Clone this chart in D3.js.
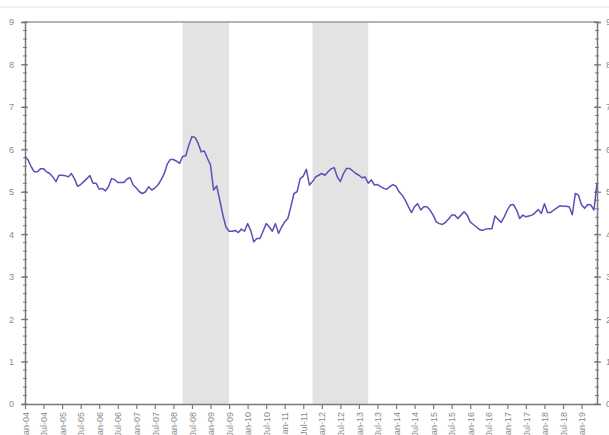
<!DOCTYPE html>
<html>
<head>
<meta charset="utf-8">
<script src="https://cdn.jsdelivr.net/npm/d3@7"></script>
<style>
  html, body { margin: 0; padding: 0; background: #fff; }
  svg { display: block; }
  text { font-family: "Liberation Sans", Arial, sans-serif; }
</style>
</head>
<body>
<svg id="chart" width="609" height="435"></svg>
<script>
// ---- data ----
const monthNames = ["Jan","Feb","Mar","Apr","May","Jun","Jul","Aug","Sep","Oct","Nov","Dec"];
// monthly categories Jan-04 .. Jun-19
const categories = [];
for (let yr = 2004; yr <= 2019; yr++) {
  for (let m = 0; m < 12; m++) {
    if (yr === 2019 && m > 5) break;
    categories.push(monthNames[m] + "-" + String(yr).slice(2));
  }
}
const values = [
  5.83,5.75,5.59,5.47,5.47,5.54,5.54,5.47,5.43,5.35,5.24,5.39,
  5.39,5.38,5.35,5.43,5.31,5.13,5.17,5.24,5.31,5.38,5.20,5.20,
  5.06,5.08,5.02,5.12,5.31,5.29,5.22,5.22,5.22,5.30,5.33,5.16,
  5.09,5.00,4.96,5.00,5.12,5.04,5.09,5.16,5.28,5.42,5.65,5.76,
  5.76,5.72,5.67,5.83,5.85,6.10,6.30,6.28,6.14,5.94,5.96,5.79,
  5.63,5.04,5.14,4.80,4.45,4.17,4.07,4.07,4.09,4.04,4.12,4.07,
  4.25,4.09,3.82,3.90,3.90,4.07,4.25,4.17,4.07,4.25,4.02,4.17,
  4.29,4.37,4.65,4.96,5.00,5.31,5.37,5.53,5.16,5.24,5.35,5.39,
  5.43,5.39,5.47,5.54,5.57,5.35,5.24,5.43,5.55,5.55,5.49,5.43,
  5.39,5.33,5.35,5.20,5.28,5.16,5.17,5.12,5.08,5.06,5.12,5.17,
  5.13,5.00,4.92,4.80,4.65,4.51,4.65,4.72,4.57,4.65,4.65,4.57,
  4.45,4.29,4.25,4.23,4.28,4.36,4.45,4.45,4.37,4.45,4.53,4.45,
  4.29,4.23,4.17,4.11,4.09,4.12,4.13,4.13,4.43,4.35,4.28,4.41,
  4.57,4.69,4.70,4.57,4.37,4.45,4.41,4.43,4.45,4.51,4.58,4.49,
  4.72,4.51,4.51,4.57,4.62,4.67,4.66,4.66,4.65,4.46,4.96,4.92,
  4.69,4.61,4.70,4.69,4.57,5.20
];
const shadedPeriods = [["Apr-08","Jul-09"],["Oct-11","Apr-13"]];
const yTicks = [0,1,2,3,4,5,6,7,8,9];
const xTickLabels = [];
for (let yr = 4; yr <= 19; yr++) {
  const yy = String(yr).padStart(2,"0");
  xTickLabels.push("Jan-" + yy);
  if (yr < 19) xTickLabels.push("Jul-" + yy);
}

// ---- layout ----
const svg = d3.select("#chart");
const mLeft = 25, mRight = 597, mTop = 22, mBottom = 404;

const x = d3.scalePoint().domain(categories).range([mLeft, mRight]);
const y = d3.scaleLinear().domain([0, 9]).range([mBottom, mTop]);

// faint outer frame line
svg.append("line").attr("x1", 0).attr("x2", 609).attr("y1", 7).attr("y2", 7)
  .attr("stroke", "#ececec").attr("stroke-width", 1.5);

// shaded periods
svg.append("g").selectAll("rect").data(shadedPeriods).join("rect")
  .attr("x", d => x(d[0]))
  .attr("width", d => x(d[1]) - x(d[0]))
  .attr("y", mTop)
  .attr("height", mBottom - mTop)
  .attr("fill", "#e3e3e3");

// top border
svg.append("line").attr("x1", mLeft).attr("x2", mRight).attr("y1", mTop).attr("y2", mTop)
  .attr("stroke", "#9a9a9a").attr("stroke-width", 1.5);

const axisColor = "#7a7a7a";
const labelColor = "#8a8a8a";

// minor y ticks
const minor = d3.range(0, 9.001, 0.2);
[mLeft, mRight].forEach(px => {
  svg.append("g").selectAll("line").data(minor).join("line")
    .attr("x1", px - 2).attr("x2", px + 2)
    .attr("y1", d => y(d)).attr("y2", d => y(d))
    .attr("stroke", axisColor).attr("stroke-width", 1);
});

// left y axis
const yAxisL = svg.append("g").attr("transform", `translate(${mLeft},0)`)
  .call(d3.axisLeft(y).tickValues(yTicks).tickSize(4).tickPadding(7).tickFormat(d3.format("d")));
yAxisL.select(".domain").attr("stroke", axisColor).attr("stroke-width", 1.5);
yAxisL.selectAll(".tick line").attr("stroke", axisColor).attr("x2", -4).attr("x1", 3).attr("stroke-width", 1.2);
yAxisL.selectAll(".tick text").attr("fill", labelColor).attr("font-size", 9);

// right y axis
const yAxisR = svg.append("g").attr("transform", `translate(${mRight},0)`)
  .call(d3.axisRight(y).tickValues(yTicks).tickSize(4).tickPadding(5).tickFormat(d3.format("d")));
yAxisR.select(".domain").attr("stroke", axisColor).attr("stroke-width", 1.5);
yAxisR.selectAll(".tick line").attr("stroke", axisColor).attr("x1", -3).attr("stroke-width", 1.2);
yAxisR.selectAll(".tick text").attr("fill", labelColor).attr("font-size", 9);

// x axis
const xAxis = svg.append("g").attr("transform", `translate(0,${mBottom})`)
  .call(d3.axisBottom(x).tickValues(xTickLabels).tickSize(5).tickSizeOuter(0));
xAxis.select(".domain").attr("stroke", axisColor).attr("stroke-width", 1.5);
xAxis.selectAll(".tick line").attr("stroke", axisColor).attr("stroke-width", 1.2);
xAxis.selectAll(".tick text")
  .attr("fill", labelColor).attr("font-size", 9)
  .attr("transform", "rotate(-90)")
  .attr("text-anchor", "end")
  .attr("x", -8).attr("y", 0).attr("dy", "0.35em");

// line
const line = d3.line().x((d, i) => x(categories[i])).y(d => y(d));
svg.append("path").datum(values)
  .attr("fill", "none")
  .attr("stroke", "#5a50b8")
  .attr("stroke-width", 1.5)
  .attr("stroke-linejoin", "round")
  .attr("d", line);
</script>
</body>
</html>
